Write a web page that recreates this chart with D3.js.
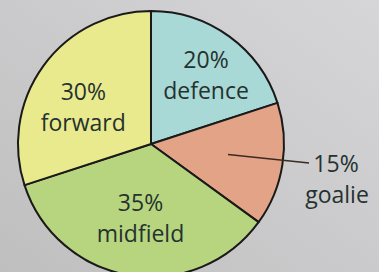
<!DOCTYPE html>
<html>
<head>
<meta charset="utf-8">
<script src="https://cdn.jsdelivr.net/npm/d3@7"></script>
<style>
  body { margin: 0; overflow: hidden; }
  svg text { font-family: "Open Sans", "Noto Sans", sans-serif; fill: #25322f; }
</style>
</head>
<body>
<svg id="chart"></svg>
<script>
// positions in the team
var positions = ["defence", "goalie", "midfield", "forward"];
var shares = [20, 15, 35, 30];
var sliceColours = ["#a9d9d6", "#e2a386", "#b7d57f", "#e9ea8e"];

var width = 379,
    height = 272;

var cx = 151, cy = 144, radius = 133;

var svg = d3.select("#chart")
    .attr("width", width)
    .attr("height", height);

// paper background, slightly lit from top right
var defs = svg.append("defs");
var grad = defs.append("linearGradient")
    .attr("id", "paper")
    .attr("x1", "100%").attr("y1", "0%")
    .attr("x2", "0%").attr("y2", "100%");
grad.append("stop").attr("offset", "0%").attr("stop-color", "#d6d6d8");
grad.append("stop").attr("offset", "100%").attr("stop-color", "#bfbfc0");
svg.append("rect")
    .attr("width", width)
    .attr("height", height)
    .attr("fill", "url(#paper)");

var rows = positions.map(function (p, i) {
    return {name: p, value: shares[i], colour: sliceColours[i]};
});

var pie = d3.pie()
    .sort(null)
    .value(function (d) { return d.value; });

var arc = d3.arc().innerRadius(0).outerRadius(radius);

var root = svg.append("g").attr("transform", "translate(" + cx + "," + cy + ")");

var arcs = pie(rows);

root.selectAll("path")
    .data(arcs).enter()
    .append("path")
    .attr("d", arc)
    .attr("fill", function (d) { return d.data.colour; })
    .attr("stroke", "#1a1a1a")
    .attr("stroke-width", 2)
    .attr("stroke-linejoin", "round");

// label placement (layout only)
var labelArc = d3.arc().innerRadius(80).outerRadius(80);
var nudge = {
    defence: [8, -8],
    midfield: [2, -9],
    forward: [-3, 6]
};

var inside = arcs.filter(function (d) { return d.data.name !== "goalie"; });

inside.forEach(function (d) {
    var c = labelArc.centroid(d),
        n = nudge[d.data.name] || [0, 0],
        x = c[0] + n[0],
        y = c[1] + n[1];
    var t = root.append("text")
        .attr("text-anchor", "middle")
        .attr("font-size", 23);
    t.append("tspan").attr("x", x).attr("y", y - 3).text(d.data.value + "%");
    t.append("tspan").attr("x", x).attr("y", y + 28).text(d.data.name);
});

// goalie label sits outside with a leader line
var goalie = arcs.filter(function (d) { return d.data.name === "goalie"; })[0];
var gc = labelArc.centroid(goalie);
root.append("line")
    .attr("x1", gc[0] - 2)
    .attr("y1", gc[1] - 2)
    .attr("x2", 158)
    .attr("y2", 19)
    .attr("stroke", "#3a2a22")
    .attr("stroke-width", 1.3);

var gt = root.append("text")
    .attr("text-anchor", "middle")
    .attr("font-size", 23);
gt.append("tspan").attr("x", 185).attr("y", 28).text(goalie.data.value + "%");
gt.append("tspan").attr("x", 186).attr("y", 59).text(goalie.data.name);
</script>
</body>
</html>
